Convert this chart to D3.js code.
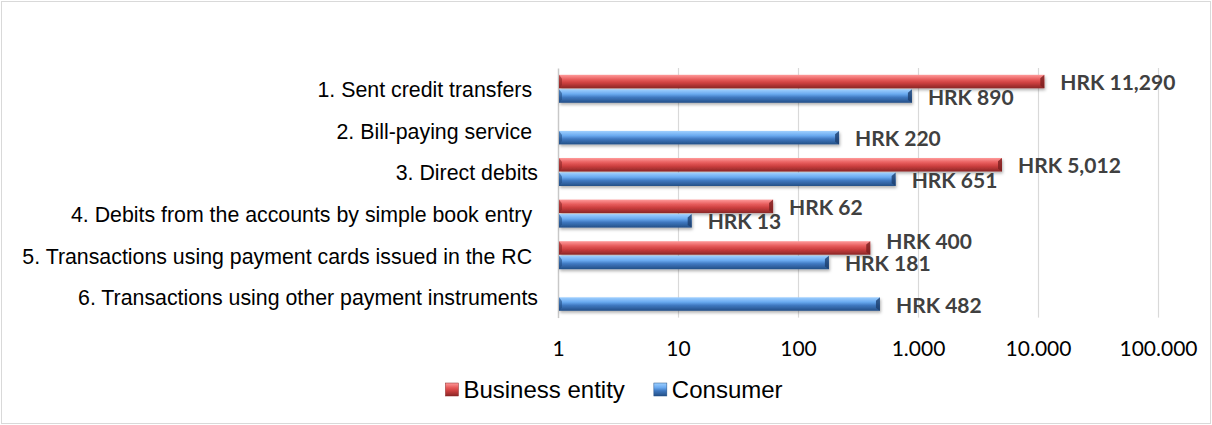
<!DOCTYPE html>
<html lang="en">
<head>
    <meta charset="UTF-8">
    <title>Payment transactions fees</title>
    <script src="https://d3js.org/d3.v7.min.js"></script>
    <style>
        body{
            margin: 0;
            background: #fff;
        }
    </style>
</head>
<body>
<svg width="1212" height="425"></svg>
<script>
    // data
    const categories = [
        "1. Sent credit transfers ",
        "2. Bill-paying service ",
        "3. Direct debits",
        "4. Debits from the accounts by simple book entry ",
        "5. Transactions using payment cards issued in the RC ",
        "6. Transactions using other payment instruments"
    ];
    const business = [11290, null, 5012, 62, 400, null];
    const consumer = [890, 220, 651, 13, 181, 482];
    const seriesNames = ["Business entity", "Consumer"];
    const tickValues = [1, 10, 100, 1000, 10000, 100000];
    const tickLabels = ["1", "10", "100", "1.000", "10.000", "100.000"];

    const svg = d3.select("svg");
    const plotTop = 68, plotBottom = 317.6, plotLeft = 558, plotRight = 1158;

    // outer border
    svg.append("rect")
        .attr("x", 1.5).attr("y", 1.5)
        .attr("width", 1209).attr("height", 422)
        .attr("fill", "none").attr("stroke", "#d9d9d9");

    const defs = svg.append("defs");
    const grads = {
        business: ["#ff9a9a", "#e65b5b", "#cc3f3f", "#8a2626"],
        consumer: ["#9fd0ff", "#6aaaf0", "#3f78c0", "#234f86"]
    };
    Object.entries(grads).forEach(([k, c]) => {
        const g = defs.append("linearGradient").attr("id", "g-" + k)
            .attr("x1", 0).attr("y1", 0).attr("x2", 0).attr("y2", 1);
        g.append("stop").attr("offset", "0%").attr("stop-color", c[0]);
        g.append("stop").attr("offset", "35%").attr("stop-color", c[1]);
        g.append("stop").attr("offset", "60%").attr("stop-color", c[2]);
        g.append("stop").attr("offset", "100%").attr("stop-color", c[3]);
    });
    const f = defs.append("filter").attr("id", "shadow")
        .attr("x", "-5%").attr("y", "-30%").attr("width", "110%").attr("height", "180%");
    f.append("feDropShadow").attr("dx", 1).attr("dy", 2)
        .attr("stdDeviation", 1.5).attr("flood-color", "#000").attr("flood-opacity", 0.3);

    const x = d3.scaleLog().domain([1, 100000]).range([plotLeft, plotRight]);
    const y = d3.scaleBand().domain(categories).range([plotTop, plotBottom])
        .paddingInner(0.327).paddingOuter(0.1635);
    const ySub = d3.scaleBand().domain(["business", "consumer"])
        .range([0, y.bandwidth()]).paddingInner(0.07);

    // gridlines
    svg.append("g")
        .attr("transform", `translate(0,${plotBottom})`)
        .call(d3.axisBottom(x).tickValues(tickValues.slice(1))
            .tickSize(-(plotBottom - plotTop)).tickFormat(""))
        .call(g => g.select(".domain").remove())
        .call(g => g.selectAll("line").attr("stroke", "#d9d9d9").attr("stroke-width", 1.2));

    // tick labels
    svg.append("g")
        .attr("transform", `translate(0,${plotBottom})`)
        .call(d3.axisBottom(x).tickValues(tickValues).tickSize(0)
            .tickFormat((d, i) => tickLabels[i]))
        .call(g => g.select(".domain").remove())
        .call(g => g.selectAll("text")
            .attr("y", 30.5).attr("dy", "0.36em")
            .attr("font-family", "Lato, sans-serif").attr("font-size", 21)
            .attr("fill", "#000"));

    // category axis
    svg.append("g")
        .attr("transform", `translate(${plotLeft},0)`)
        .call(d3.axisLeft(y).tickSize(0).tickSizeOuter(0).tickPadding(20))
        .call(g => g.select(".domain").attr("stroke", "#c8c8c8").attr("stroke-width", 1.5))
        .call(g => g.selectAll("text")
            .attr("dy", "0.35em")
            .attr("transform", "translate(0,1)")
            .style("white-space", "pre")
            .attr("font-family", "'Liberation Sans', Arial, sans-serif")
            .attr("font-size", 21.33).attr("fill", "#000"));

    // bars
    const rows = [];
    categories.forEach((c, i) => {
        if (business[i] != null) rows.push({cat: c, key: "business", v: business[i]});
        if (consumer[i] != null) rows.push({cat: c, key: "consumer", v: consumer[i]});
    });

    const bar = svg.append("g").selectAll("g").data(rows).join("g")
        .attr("transform", d => `translate(0,${y(d.cat) + ySub(d.key)})`);
    const h = ySub.bandwidth();

    bar.append("rect")
        .attr("x", plotLeft + 1)
        .attr("width", d => x(d.v) - plotLeft - 1)
        .attr("height", h)
        .attr("fill", d => `url(#g-${d.key})`)
        .attr("filter", "url(#shadow)");
    // bevelled right end
    bar.append("path")
        .attr("d", d => {
            const e = x(d.v);
            return `M${e - 4},${h * 0.25}L${e},${0}L${e},${h}L${e - 4},${h * 0.8}Z`;
        })
        .attr("fill", d => d.key === "business" ? "#7a1f1f" : "#1d3f6e")
        .attr("opacity", 0.8);
    // bevelled left end
    bar.append("path")
        .attr("d", `M${plotLeft + 1},0L${plotLeft + 4},${h * 0.3}L${plotLeft + 4},${h * 0.75}L${plotLeft + 1},${h}Z`)
        .attr("fill", d => d.key === "business" ? "#8a2626" : "#234f86")
        .attr("opacity", 0.6);

    // data labels
    const fmt = d3.format(",");
    const labels = bar.append("text")
        .attr("x", d => x(d.v) + 16)
        .attr("y", h / 2 + 1)
        .attr("dy", "0.36em")
        .attr("font-family", "Lato, sans-serif")
        .attr("font-weight", "bold")
        .attr("font-size", 21)
        .attr("fill", "#404040")
        .text(d => "HRK " + fmt(d.v));

    // lift a business label when it would collide with the consumer label below it
    const boxes = new Map();
    labels.each(function(d) {
        const w = this.getComputedTextLength();
        boxes.set(d.cat + "|" + d.key, [x(d.v) + 16, x(d.v) + 16 + w]);
    });
    labels.filter(d => d.key === "business").attr("y", function(d) {
        const a = boxes.get(d.cat + "|business");
        const b = boxes.get(d.cat + "|consumer");
        const hit = b && a[0] < b[1] && b[0] < a[1];
        return h / 2 + 1 - (hit ? 8 : 0);
    });

    // legend
    const legend = svg.append("g").attr("transform", "translate(0,390)");
    const legColors = ["business", "consumer"];
    const items = legend.selectAll("g").data(seriesNames).join("g");
    items.append("rect")
        .attr("y", -7).attr("width", 13).attr("height", 13)
        .attr("fill", (d, i) => `url(#g-${legColors[i]})`)
        .attr("stroke", (d, i) => i ? "#234f86" : "#8a2626").attr("stroke-width", 0.5);
    items.append("text")
        .attr("x", 18).attr("y", 8)
        .attr("font-family", "'Liberation Sans', Arial, sans-serif")
        .attr("font-size", 24).attr("fill", "#000")
        .text(d => d);
    let cx = 0;
    const pos = [];
    items.each(function() {
        pos.push(cx);
        cx += this.getBBox().width + 29;
    });
    const total = cx - 29;
    const start = 614 - total / 2;
    items.attr("transform", (d, i) => `translate(${start + pos[i]},0)`);
</script>
</body>
</html>
